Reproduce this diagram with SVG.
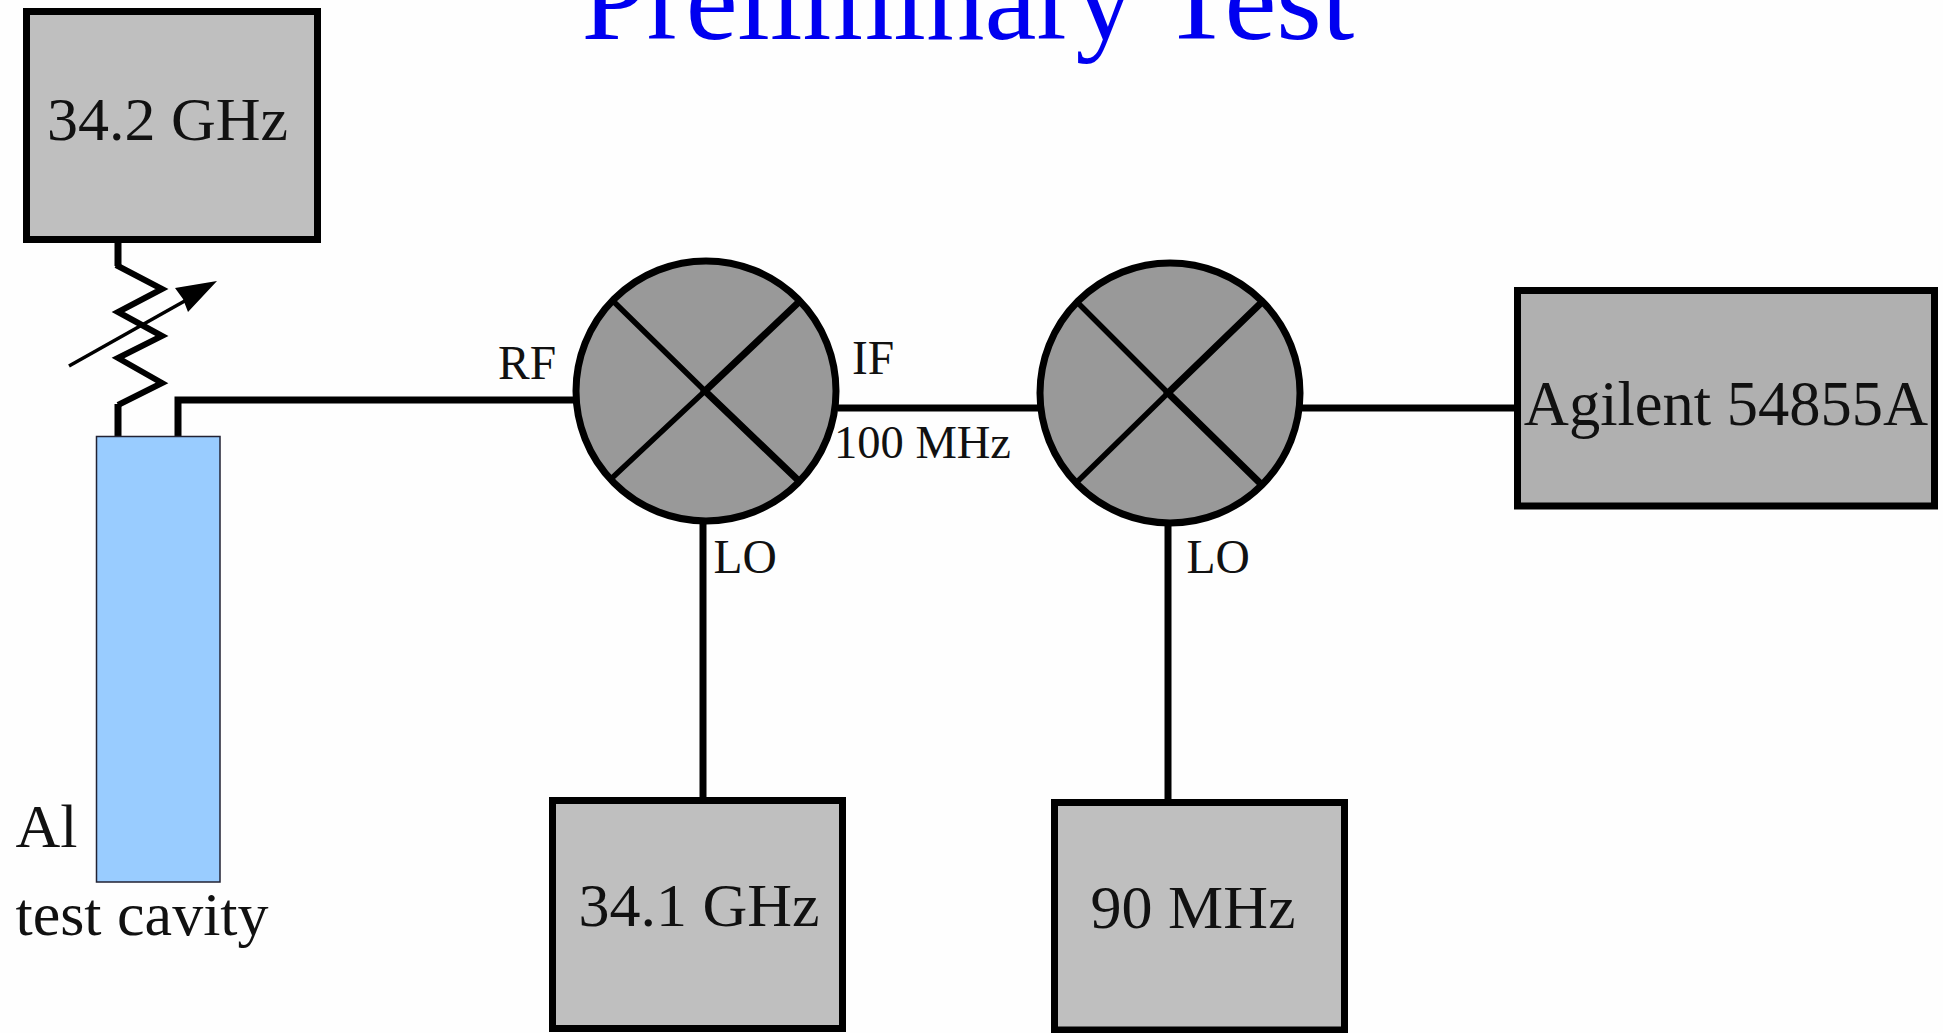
<svg xmlns="http://www.w3.org/2000/svg" width="1943" height="1033" viewBox="0 0 1943 1033">
<style>
text{font-family:"Liberation Serif","Times New Roman",serif;fill:#111}
.box{fill:#bfbfbf;stroke:#000;stroke-width:7}
.mix{fill:#999;stroke:#000;stroke-width:7}
.w{fill:none;stroke:#000;stroke-width:7}
.z{fill:none;stroke:#000;stroke-width:6}
.big{font-size:62px}
.sm{font-size:47.5px}
</style>
<rect width="1943" height="1033" fill="#fefefe"/>
<text x="968" y="39" text-anchor="middle" font-size="117" style="fill:#0000f0">Preliminary Test</text>
<g id="connectors">
<path class="w" d="M118 243V266M118 404V437"/>
<path class="z" d="M116 265L162 289L118 312L162 336L118 358L162 383L118 405"/>
<path class="w" d="M178 437V400H576M838 408H1040M1300 408H1518M703 522V800M1168 524V803"/>
<path fill="none" stroke="#000" stroke-width="3.5" d="M69 366L190 298"/>
<path d="M217 281L175 288L183 299L188 312Z"/>
</g>
<g id="osc342"><rect class="box" x="26.500" y="11.500" width="291" height="228"/><text class="big" x="167.500" y="139.500" text-anchor="middle">34.2 GHz</text></g>
<g id="cavity"><rect x="96.500" y="436.500" width="123.500" height="445.500" fill="#99ccff" stroke="#223" stroke-width="1.500"/><text class="big" x="15.500" y="847">Al</text><text class="big" x="15.500" y="935">test cavity</text></g>
<g id="mixer1"><circle class="mix" cx="706" cy="391" r="130"/><g fill="none" stroke="#000"><path stroke-width="5.500" d="M612 300L705 391L612 478"/><path stroke-width="7" d="M801 300L705 391L801 483"/></g></g>
<g id="mixer2"><circle class="mix" cx="1170" cy="393" r="130"/><g fill="none" stroke="#000"><path stroke-width="5.500" d="M1077 302L1168 393L1077 482"/><path stroke-width="7" d="M1262 302L1168 393L1262 485"/></g></g>
<g id="agilent"><rect x="1517.500" y="290.500" width="417" height="215.500" fill="#b0b0b0" stroke="#000" stroke-width="7"/><text x="1726" y="425" text-anchor="middle" font-size="62.500">Agilent 54855A</text></g>
<g id="osc341"><rect class="box" x="552.500" y="800.500" width="290" height="228"/><text class="big" x="699" y="926" text-anchor="middle">34.1 GHz</text></g>
<g id="osc90"><rect class="box" x="1054.500" y="802.500" width="290" height="227.500"/><text class="big" x="1193" y="928" text-anchor="middle">90 MHz</text></g>
<g id="labels">
<text class="sm" x="498" y="379">RF</text><text class="sm" x="852" y="374">IF</text><text x="834" y="458" font-size="46.500">100 MHz</text><text class="sm" x="713.500" y="573">LO</text><text class="sm" x="1186.500" y="573">LO</text>
</g>
</svg>
